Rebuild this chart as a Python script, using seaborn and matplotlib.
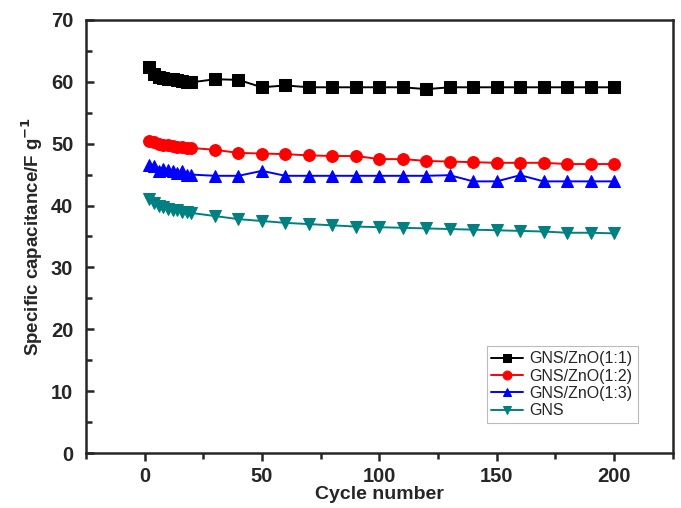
import numpy as np
import pandas as pd
import matplotlib
matplotlib.use('Agg')
import matplotlib.pyplot as plt
import seaborn as sns
from matplotlib.ticker import MultipleLocator

# ── data ─────────────────────────────────────────────────────────────────────
cycles = [2, 4, 6, 8, 10, 12, 14, 16, 18, 20,
          30, 40, 50, 60, 70, 80, 90, 100, 110, 120,
          130, 140, 150, 160, 170, 180, 190, 200]

gns_zno_11 = [62.3, 61.2, 60.8, 60.6, 60.5, 60.4, 60.3, 60.1, 60.0, 59.9,
              60.4, 60.3, 59.1, 59.4, 59.1, 59.1, 59.1, 59.1, 59.1, 58.8,
              59.1, 59.1, 59.1, 59.1, 59.1, 59.1, 59.1, 59.1]
gns_zno_12 = [50.4, 50.2, 50.0, 49.8, 49.7, 49.6, 49.5, 49.4, 49.3, 49.3,
              49.0, 48.5, 48.4, 48.3, 48.1, 48.0, 48.0, 47.5, 47.5, 47.2,
              47.1, 47.0, 46.9, 46.9, 46.9, 46.7, 46.7, 46.7]
gns_zno_13 = [46.6, 46.4, 45.5, 45.9, 45.8, 45.6, 45.2, 45.5, 45.0, 45.0,
              44.8, 44.8, 45.6, 44.8, 44.8, 44.8, 44.8, 44.8, 44.8, 44.8,
              44.9, 43.9, 43.9, 44.9, 43.9, 43.9, 43.9, 43.9]
gns = [41.0, 40.4, 40.0, 39.7, 39.5, 39.3, 39.2, 39.0, 38.9, 38.8,
       38.3, 37.8, 37.5, 37.2, 37.0, 36.8, 36.6, 36.5, 36.4, 36.3,
       36.2, 36.1, 36.0, 35.9, 35.8, 35.6, 35.6, 35.5]

labels = ['GNS/ZnO(1:1)', 'GNS/ZnO(1:2)', 'GNS/ZnO(1:3)', 'GNS']
series = [gns_zno_11, gns_zno_12, gns_zno_13, gns]
colors = ['#000000', '#ff0000', '#0000ff', '#008080']
markers = ['s', 'o', '^', 'v']

# ── plot ─────────────────────────────────────────────────────────────────────
sns.set_style('ticks')
plt.rcParams['font.family'] = ['Liberation Sans', 'DejaVu Sans']

fig = plt.figure(figsize=(6.81, 5.08), dpi=100)
ax = fig.add_axes([0.126, 0.108, 0.862, 0.853])

for lab, vals, c, m in zip(labels, series, colors, markers):
    sns.lineplot(x=cycles, y=vals, ax=ax, color=c, marker=m, markersize=8.5,
                 markeredgecolor=c, linewidth=1.4, label=lab)

ax.set_xlim(-25, 225)
ax.set_ylim(0, 70)
ax.xaxis.set_major_locator(MultipleLocator(50))
ax.xaxis.set_minor_locator(MultipleLocator(25))
ax.yaxis.set_major_locator(MultipleLocator(10))
ax.yaxis.set_minor_locator(MultipleLocator(5))

ax.tick_params(axis='x', which='major', direction='out', length=6, width=1.8)
ax.tick_params(axis='x', which='minor', direction='out', length=4, width=1.8)
ax.tick_params(axis='y', which='major', direction='in', length=6, width=1.8)
ax.tick_params(axis='y', which='minor', direction='in', length=4, width=1.8)
ax.tick_params(axis='y', labelsize=14.5, pad=9)
ax.tick_params(axis='x', labelsize=14.5, pad=4)
for t in ax.get_xticklabels() + ax.get_yticklabels():
    t.set_fontweight('bold')
for s in ax.spines.values():
    s.set_linewidth(1.8)
    s.set_visible(True)

ax.set_xlabel('Cycle number', fontsize=14, fontweight='bold', labelpad=0)
ax.set_ylabel('Specific capacitance/F g$^{\\mathbf{-1}}$', fontsize=13.5,
              fontweight='bold', labelpad=4)

leg = ax.legend(loc='lower right', bbox_to_anchor=(0.94, 0.069), fontsize=11.5,
                frameon=True, fancybox=False, edgecolor='#aaaaaa',
                handlelength=2.0, handletextpad=0.4, borderpad=0.3,
                labelspacing=0.15, markerscale=0.75, borderaxespad=0)
leg.get_frame().set_linewidth(0.8)

fig.savefig('out.png', dpi=100)
